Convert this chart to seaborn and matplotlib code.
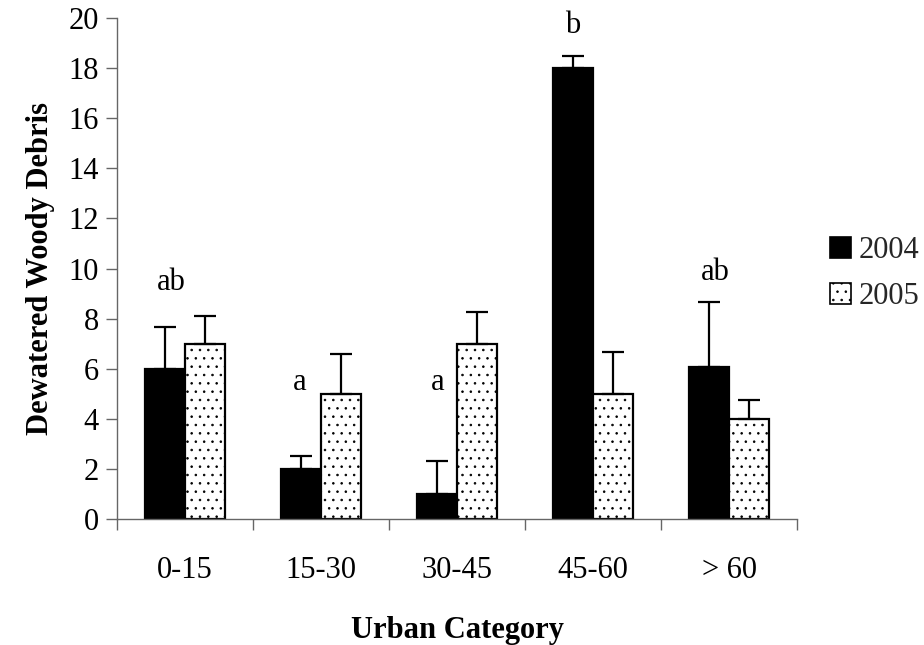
import matplotlib
matplotlib.use("Agg")
import matplotlib.pyplot as plt
from matplotlib.patches import Patch
import seaborn as sns
import pandas as pd
import numpy as np

categories = ["0-15", "15-30", "30-45", "45-60", "> 60"]
years = ["2004", "2005"]
values_2004 = [6.0, 2.0, 1.0, 18.0, 6.05]
values_2005 = [7.0, 5.0, 7.0, 5.0, 4.0]
err_2004 = [1.65, 0.5, 1.3, 0.5, 2.6]
err_2005 = [1.1, 1.6, 1.25, 1.65, 0.75]
letters = ["ab", "a", "a", "b", "ab"]
letter_y = [9.45, 5.45, 5.45, 19.7, 9.85]
letter_x_offset = [-0.10, -0.16, -0.14, -0.15, -0.10]

FS = 22

sns.set_theme(style="white")
plt.rcParams["font.family"] = ["Liberation Serif", "DejaVu Serif"]
plt.rcParams["hatch.color"] = "#444444"
plt.rcParams["hatch.linewidth"] = 0.6

df = pd.DataFrame({
    "cat": categories * 2,
    "year": [years[0]] * 5 + [years[1]] * 5,
    "val": values_2004 + values_2005,
})

fig = plt.figure(figsize=(9.24, 6.45), dpi=100)
ax = fig.add_axes([117 / 924, 1 - 519 / 645, (797 - 117) / 924, (519 - 18) / 645])

sns.barplot(data=df, x="cat", y="val", hue="year", order=categories,
            hue_order=years, palette=["black", "white"], width=0.59,
            errorbar=None, ax=ax, edgecolor="black", linewidth=1.6,
            saturation=1, legend=False)

patches = [p for p in ax.patches if p.get_height() > 0]
bars04 = patches[:5]
bars05 = patches[5:10]
for p in bars05:
    p.set_hatch("..")
    p.set_edgecolor("black")

for bars, vals, errs in [(bars04, values_2004, err_2004), (bars05, values_2005, err_2005)]:
    xs = [p.get_x() + p.get_width() / 2 for p in bars]
    ax.errorbar(xs, vals, yerr=[np.zeros(len(errs)), errs], fmt="none",
                ecolor="black", elinewidth=1.6, capsize=8, capthick=1.6)

for i, (lab, ly, dx) in enumerate(zip(letters, letter_y, letter_x_offset)):
    ax.text(i + dx, ly, lab, ha="center", va="center", fontsize=FS, color="black")

ax.set_xlim(-0.5, 4.5)
ax.set_ylim(0, 20)
ax.set_yticks(np.arange(0, 21, 2))
ax.set_xticks(range(5))
ax.set_xticklabels(categories)
ax.set_xticks(np.arange(-0.5, 4.6, 1), minor=True)
ax.tick_params(axis="x", which="major", length=0, pad=27, labelsize=FS, colors="black")
ax.tick_params(axis="x", which="minor", length=8, width=1, color="#666666", direction="out", bottom=True)
ax.tick_params(axis="y", length=8, width=1, color="#666666", direction="out", left=True, labelsize=FS, labelcolor="black", pad=5)

for s in ["top", "right"]:
    ax.spines[s].set_visible(False)
for s in ["left", "bottom"]:
    ax.spines[s].set_color("#666666")
    ax.spines[s].set_linewidth(1)

ax.set_xlabel("Urban Category", fontsize=FS, fontweight="bold", labelpad=22, color="black")
ax.set_ylabel("Dewatered Woody Debris", fontsize=FS, fontweight="bold", labelpad=10, color="black")

handles = [Patch(facecolor="black", edgecolor="black", linewidth=1.2),
           Patch(facecolor="white", edgecolor="black", linewidth=1.2, hatch="..")]
ax.legend(handles, years, loc="center left", bbox_to_anchor=(1.03, 0.49), frameon=False,
          fontsize=FS, handlelength=0.7, handleheight=0.7,
          handletextpad=0.25, labelspacing=0.55, borderaxespad=0)

fig.savefig("out.png", dpi=100)
